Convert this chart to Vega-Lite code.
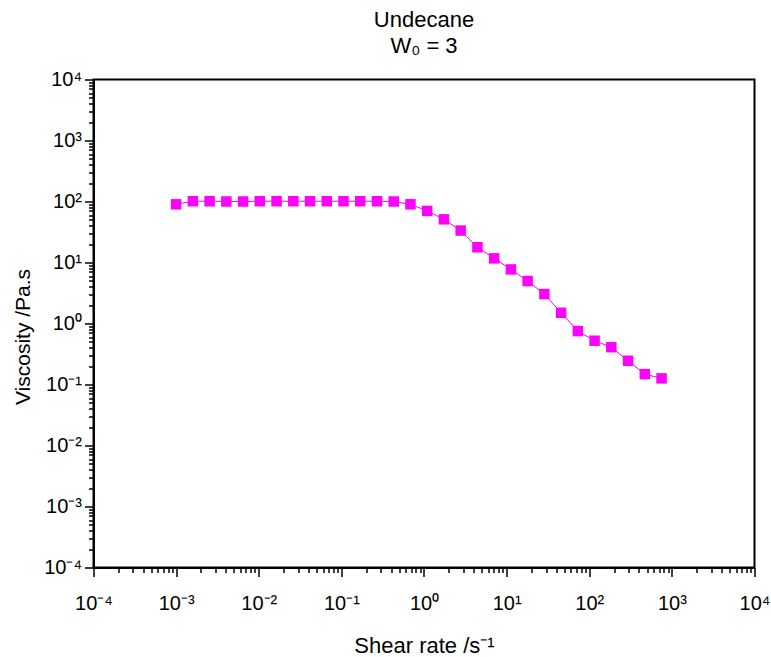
{
  "$schema": "https://vega.github.io/schema/vega-lite/v6.json",
  "width": 661,
  "height": 488,
  "autosize": {"type": "none"},
  "padding": {"left": 93.5, "top": 79.5, "right": 16.5, "bottom": 89.5},
  "background": "white",
  "config": {
    "font": "Liberation Sans",
    "view": {"stroke": "black", "strokeWidth": 2},
    "axis": {
      "grid": false,
      "domainColor": "black",
      "domainWidth": 2,
      "tickColor": "black",
      "tickWidth": 1.5,
      "labelColor": "black",
      "titleColor": "black",
      "labelFont": "Liberation Sans",
      "titleFont": "Liberation Sans",
      "labelFontSize": 20,
      "titleFontSize": 21,
      "titleFontWeight": "normal",
      "labelOverlap": false,
      "labelFlush": false,
      "labelBound": false
    }
  },
  "title": {
    "text": "Undecane",
    "subtitle": "W₀ = 3",
    "font": "Liberation Sans",
    "subtitleFont": "Liberation Sans",
    "fontSize": 22,
    "subtitleFontSize": 22,
    "fontWeight": "normal",
    "color": "black",
    "subtitleColor": "black",
    "anchor": "middle",
    "offset": 12,
    "subtitlePadding": 4
  },
  "data": {
    "values": [
      {"rate": 0.001, "visc": 90},
      {"rate": 0.001595, "visc": 101},
      {"rate": 0.002543, "visc": 101},
      {"rate": 0.004055, "visc": 100},
      {"rate": 0.006464, "visc": 100},
      {"rate": 0.0103, "visc": 101},
      {"rate": 0.01643, "visc": 101},
      {"rate": 0.0262, "visc": 101},
      {"rate": 0.04176, "visc": 101},
      {"rate": 0.06658, "visc": 101},
      {"rate": 0.1061, "visc": 101},
      {"rate": 0.1692, "visc": 101},
      {"rate": 0.2698, "visc": 101},
      {"rate": 0.4302, "visc": 100},
      {"rate": 0.6858, "visc": 90},
      {"rate": 1.093, "visc": 70},
      {"rate": 1.743, "visc": 51},
      {"rate": 2.78, "visc": 33.4},
      {"rate": 4.432, "visc": 17.8},
      {"rate": 7.066, "visc": 11.7},
      {"rate": 11.27, "visc": 7.7},
      {"rate": 17.96, "visc": 4.97},
      {"rate": 28.63, "visc": 3.04},
      {"rate": 45.65, "visc": 1.5},
      {"rate": 72.79, "visc": 0.75},
      {"rate": 116.0, "visc": 0.522},
      {"rate": 185.0, "visc": 0.409},
      {"rate": 295.0, "visc": 0.245},
      {"rate": 470.3, "visc": 0.148},
      {"rate": 749.9, "visc": 0.126}
    ]
  },
  "encoding": {
    "x": {
      "field": "rate",
      "type": "quantitative",
      "scale": {"type": "log", "domain": [0.0001, 10000], "nice": false},
      "axis": {
        "title": "Shear rate /s⁻¹",
        "titleFontSize": 22,
        "titleBaseline": "alphabetic",
        "titleY": 85,
        "values": [0.0001,0.0002,0.0003,0.0004,0.0005,0.0006,0.0007,0.0008,0.0009,0.001,0.002,0.003,0.004,0.005,0.006,0.007,0.008,0.009,0.01,0.02,0.03,0.04,0.05,0.06,0.07,0.08,0.09,0.1,0.2,0.3,0.4,0.5,0.6,0.7,0.8,0.9,1,2,3,4,5,6,7,8,9,10,20,30,40,50,60,70,80,90,100,200,300,400,500,600,700,800,900,1000,2000,3000,4000,5000,6000,7000,8000,9000,10000],
        "labelExpr": "abs(log(datum.value)/LN10 - round(log(datum.value)/LN10)) < 0.01 ? '10' + (round(log(datum.value)/LN10) < 0 ? '⁻' : '') + ['⁰','¹','²','³','⁴'][abs(round(log(datum.value)/LN10))] : ''",
        "tickSize": {"condition": {"test": "abs(log(datum.value)/LN10 - round(log(datum.value)/LN10)) < 0.01", "value": 9}, "value": 5},
        "labelPadding": 17
      }
    },
    "y": {
      "field": "visc",
      "type": "quantitative",
      "scale": {"type": "log", "domain": [0.0001, 10000], "nice": false},
      "axis": {
        "title": "Viscosity /Pa.s",
        "titleBaseline": "alphabetic",
        "titleX": -64.5,
        "titleY": 257,
        "values": [0.0001,0.0002,0.0003,0.0004,0.0005,0.0006,0.0007,0.0008,0.0009,0.001,0.002,0.003,0.004,0.005,0.006,0.007,0.008,0.009,0.01,0.02,0.03,0.04,0.05,0.06,0.07,0.08,0.09,0.1,0.2,0.3,0.4,0.5,0.6,0.7,0.8,0.9,1,2,3,4,5,6,7,8,9,10,20,30,40,50,60,70,80,90,100,200,300,400,500,600,700,800,900,1000,2000,3000,4000,5000,6000,7000,8000,9000,10000],
        "labelExpr": "abs(log(datum.value)/LN10 - round(log(datum.value)/LN10)) < 0.01 ? '10' + (round(log(datum.value)/LN10) < 0 ? '⁻' : '') + ['⁰','¹','²','³','⁴'][abs(round(log(datum.value)/LN10))] : ''",
        "tickSize": {"condition": {"test": "abs(log(datum.value)/LN10 - round(log(datum.value)/LN10)) < 0.01", "value": 9}, "value": 5},
        "labelPadding": 3
      }
    }
  },
  "layer": [
    {"mark": {"type": "line", "color": "#FF00FF", "strokeWidth": 1}},
    {"mark": {"type": "point", "shape": "square", "filled": true, "size": 110, "color": "#FF00FF", "opacity": 1}}
  ]
}
